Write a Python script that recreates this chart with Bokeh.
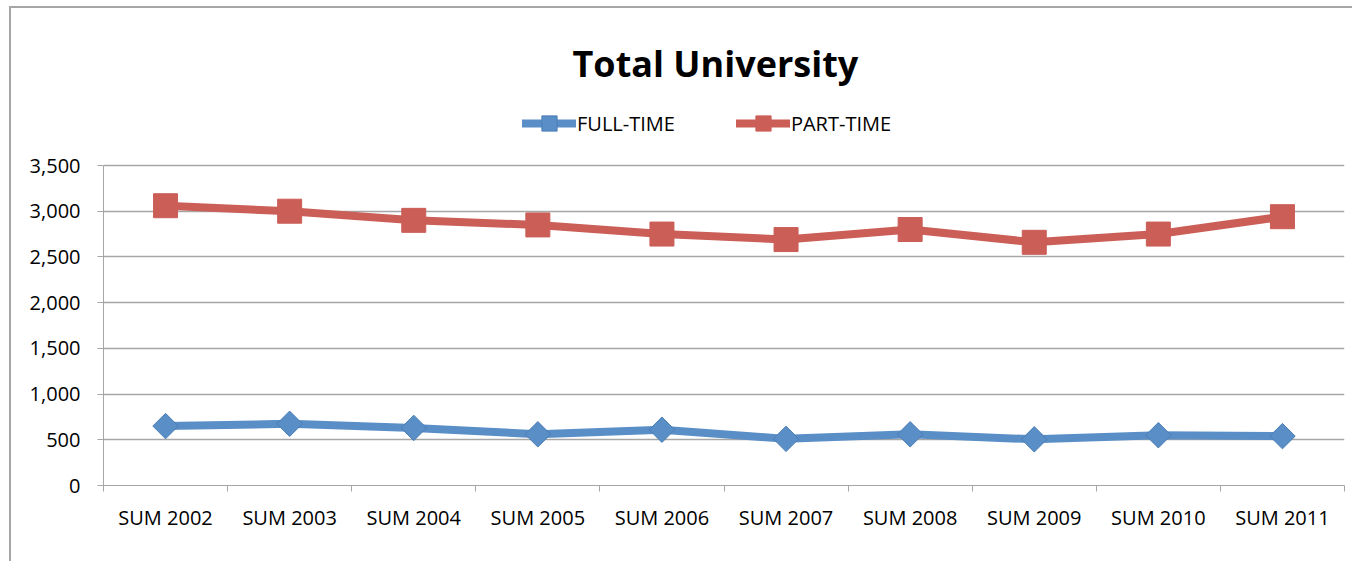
import math
from bokeh.plotting import figure
from bokeh.models import (ColumnDataSource, FixedTicker, NumeralTickFormatter,
                          Legend, LegendItem, Range1d)
from bokeh.embed import file_html
from bokeh.resources import INLINE

categories = ["SUM 2002", "SUM 2003", "SUM 2004", "SUM 2005", "SUM 2006",
              "SUM 2007", "SUM 2008", "SUM 2009", "SUM 2010", "SUM 2011"]
full_time = [650, 675, 630, 560, 610, 510, 560, 505, 550, 540]
part_time = [3060, 3000, 2900, 2850, 2750, 2690, 2800, 2660, 2750, 2940]
y_ticks = [0, 500, 1000, 1500, 2000, 2500, 3000, 3500]

FONT = "Open Sans"
BLUE = "#5A8EC7"
RED = "#CB5E57"
GRID = "#A6A6A6"

# layout (page pixels)
CANVAS_X, CANVAS_Y = 11, 8
FRAME_L, FRAME_R, FRAME_T, FRAME_B = 103, 1344, 100, 485
AXIS_TOP_PX = 165                      # where 3,500 sits
Y_TOP = y_ticks[-1]
Y_MAX = Y_TOP * (FRAME_B - FRAME_T) / (FRAME_B - AXIS_TOP_PX)
W = 1352 - CANVAS_X + 2
H = 561 - CANVAS_Y + 2

xpos = [i + 0.5 for i in range(len(categories))]
src = ColumnDataSource(dict(x=xpos, ft=full_time, pt=part_time))

p = figure(width=W, height=H,
           output_backend="svg", toolbar_location=None,
           x_range=Range1d(0, len(categories)), y_range=Range1d(0, Y_MAX),
           title="Total University",
           min_border_left=FRAME_L - CANVAS_X,
           min_border_right=CANVAS_X + W - FRAME_R,
           min_border_top=FRAME_T - CANVAS_Y,
           min_border_bottom=CANVAS_Y + H - FRAME_B)
p.styles = {"border-left": "2px solid #A6A6A6", "border-top": "2px solid #A6A6A6",
            "margin-left": "9px", "margin-top": "6px"}
p.title.align = "left"
p.title.text_font = FONT
p.title.text_font_size = "36px"
p.title.text_font_style = "bold"
p.title.text_color = "black"
p.title.offset = 572 - FRAME_L
p.title.standoff = 26
p.outline_line_color = None
p.background_fill_color = "white"
p.border_fill_color = "white"

# axes
p.xaxis.ticker = FixedTicker(ticks=xpos, minor_ticks=list(range(len(categories) + 1)))
p.xaxis.major_label_overrides = {x: c for x, c in zip(xpos, categories)}
p.xaxis.major_tick_out = 0
p.xaxis.major_tick_in = 0
p.xaxis.minor_tick_out = 6
p.xaxis.minor_tick_in = 0
p.xaxis.minor_tick_line_color = GRID
p.xaxis.axis_line_color = GRID
p.xaxis.major_label_standoff = 12
p.xaxis.major_label_text_font = FONT
p.xaxis.major_label_text_font_size = "20px"
p.xaxis.major_label_text_color = "black"

p.yaxis.ticker = FixedTicker(ticks=y_ticks, minor_ticks=[])
p.yaxis.formatter = NumeralTickFormatter(format="0,0")
p.yaxis.bounds = (0, Y_TOP)
p.yaxis.major_tick_out = 6
p.yaxis.major_tick_in = 0
p.yaxis.major_tick_line_color = GRID
p.yaxis.axis_line_color = GRID
p.yaxis.major_label_standoff = 17
p.yaxis.major_label_text_font = FONT
p.yaxis.major_label_text_font_size = "20px"
p.yaxis.major_label_text_color = "black"

p.xgrid.visible = False
p.ygrid.ticker = FixedTicker(ticks=y_ticks)
p.ygrid.grid_line_color = GRID
p.ygrid.grid_line_width = 1.5

# series
l1 = p.line("x", "ft", source=src, line_width=8, line_color=BLUE, line_join="round", line_cap="round")
m1 = p.scatter("x", "ft", source=src, marker="square", size=18, angle=math.pi / 4,
               fill_color=BLUE, line_color="#4A7DB5", line_width=1)
l2 = p.line("x", "pt", source=src, line_width=8, line_color=RED, line_join="round", line_cap="round")
m2 = p.scatter("x", "pt", source=src, marker="square", size=24,
               fill_color=RED, line_color=RED, line_width=1)

legend = Legend(items=[LegendItem(label="FULL-TIME", renderers=[l1, m1]),
                       LegendItem(label="PART-TIME", renderers=[l2, m2])],
                orientation="horizontal", location=(522 - FRAME_L, FRAME_B - 142),
                border_line_color=None, background_fill_alpha=0,
                glyph_width=54, glyph_height=38, label_standoff=1, spacing=61,
                padding=0, margin=0,
                label_text_font=FONT, label_text_font_size="20px", label_text_color="black")
p.add_layout(legend, "center")

open("out.html", "w").write(file_html(p, INLINE))
